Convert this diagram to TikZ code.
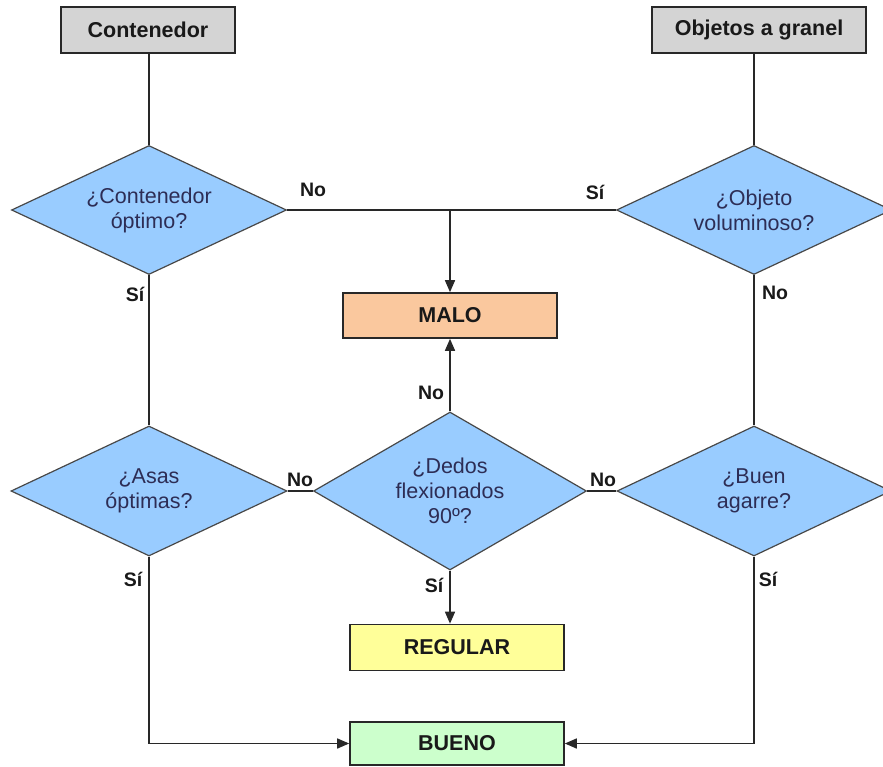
\documentclass[tikz,border=0pt]{standalone}
\usepackage{fontspec}
\setmainfont{Liberation Sans}
\usetikzlibrary{shapes.geometric,arrows.meta}
\definecolor{boxgrey}{RGB}{212,212,212}
\definecolor{malo}{RGB}{250,200,158}
\definecolor{regular}{RGB}{255,255,153}
\definecolor{bueno}{RGB}{204,255,204}
\definecolor{dia}{RGB}{153,204,255}
\definecolor{dtext}{RGB}{45,45,85}
\definecolor{linec}{RGB}{40,40,40}
\begin{document}
\begin{tikzpicture}[x=1pt,y=-1pt,
  box/.style={draw=linec, line width=1.6pt, rectangle, inner sep=0pt, font=\fontsize{21.5}{25}\selectfont\bfseries, text=black!90},
  dec/.style={draw=linec!85, line width=1.2pt, diamond, fill=dia, inner sep=0pt, font=\fontsize{21.5}{25}\selectfont, text=dtext, align=center},
  lbl/.style={font=\fontsize{19.5}{20}\selectfont\bfseries, text=black!90, inner sep=0pt},
  conn/.style={draw=linec, line width=1.5pt},
  arr/.style={conn, -{Triangle[length=12pt,width=10pt]}}
]
\useasboundingbox (0,0) rectangle (883,767);
\node[box, fill=boxgrey, minimum width=174pt, minimum height=46pt] (cont) at (148,30) {Contenedor};
\node[box, fill=boxgrey, minimum width=214pt, minimum height=46pt] (obj) at (759,30) {Objetos a granel};
\node[dec, aspect=2.13, minimum width=275pt, minimum height=129pt] (d1) at (149,210) {¿Contenedor\\óptimo?};
\node[dec, aspect=2.13, minimum width=275pt, minimum height=129pt] (d2) at (754,210) {¿Objeto\\voluminoso?};
\node[box, fill=malo, minimum width=214pt, minimum height=45pt] (malo) at (450,315.5) {MALO};
\node[dec, aspect=2.12, minimum width=276pt, minimum height=130pt] (d3) at (149,491) {¿Asas\\óptimas?};
\node[dec, aspect=1.73, minimum width=273pt, minimum height=158pt] (d4) at (450,491) {¿Dedos\\flexionados\\90º?};
\node[dec, aspect=2.11, minimum width=274pt, minimum height=130pt] (d5) at (754,491) {¿Buen\\agarre?};
\node[box, fill=regular, minimum width=214pt, minimum height=46pt] (reg) at (457,647.5) {REGULAR};
\node[box, fill=bueno, minimum width=214pt, minimum height=43pt] (bue) at (457,743.5) {BUENO};

\draw[conn] (d1.north |- cont.south) -- (d1.north);
\draw[conn] (d2.north |- obj.south) -- (d2.north);
\draw[conn] (d1.east) -- (d2.west);
\draw[arr] (malo.north |- d1.east) -- (malo.north);
\draw[conn] (d1.south) -- (d3.north);
\draw[conn] (d2.south) -- (d5.north);
\draw[conn] (d3.east) -- (d4.west);
\draw[conn] (d5.west) -- (d4.east);
\draw[arr] (d4.north) -- (malo.south);
\draw[arr] (d4.south) -- (d4.south |- reg.north);
\draw[arr] (d3.south) |- (bue.west);
\draw[arr] (d5.south) |- (bue.east);

\node[lbl] (l1) at (313,190) {No};
\node[lbl] (l2) at (595,192) {Sí};
\node[lbl] (l3) at (135,294) {Sí};
\node[lbl] (l4) at (775,293) {No};
\node[lbl] (l5) at (431,393) {No};
\node[lbl] (l6) at (300,480) {No};
\node[lbl] (l7) at (603,480) {No};
\node[lbl] (l8) at (133,579) {Sí};
\node[lbl] (l9) at (434,585) {Sí};
\node[lbl] (l10) at (768,579) {Sí};
\end{tikzpicture}
\end{document}
